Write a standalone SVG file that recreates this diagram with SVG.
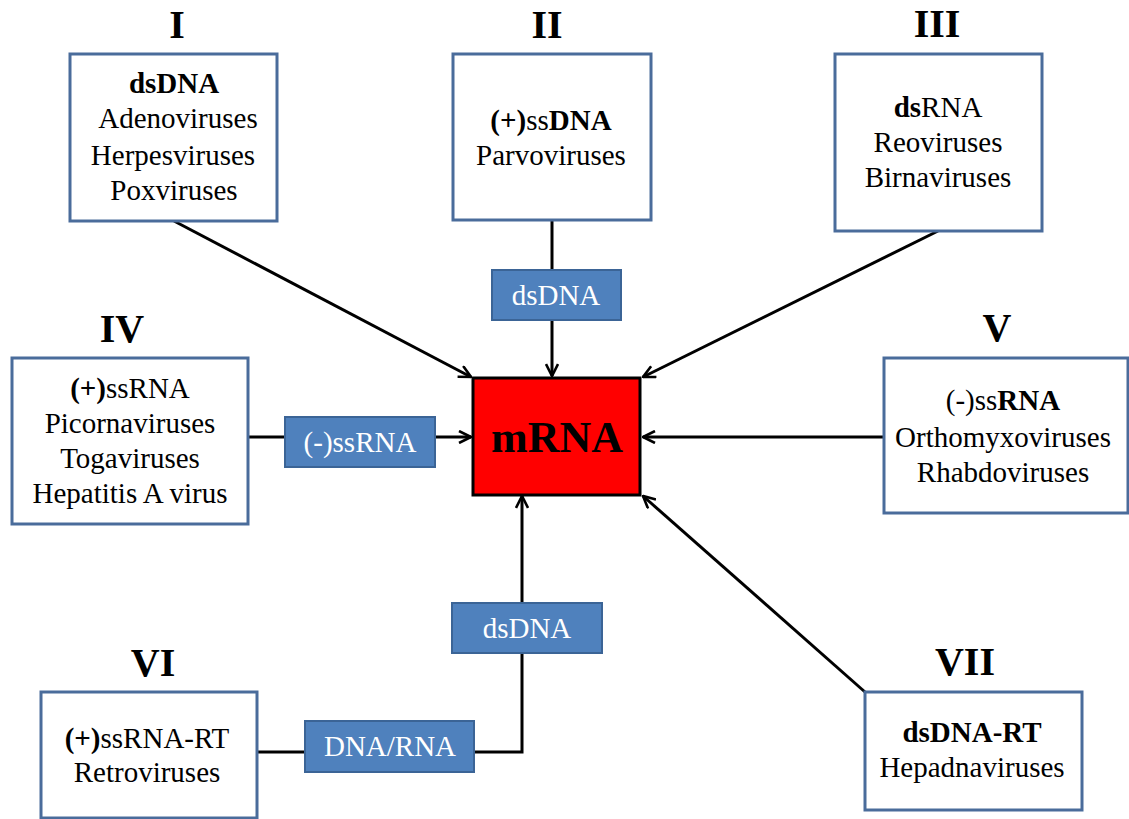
<svg xmlns="http://www.w3.org/2000/svg" width="1129" height="819" viewBox="0 0 1129 819">
<defs>
<marker id="arr" viewBox="0 0 14 14" refX="13" refY="7" markerWidth="14" markerHeight="14" markerUnits="userSpaceOnUse" orient="auto">
<path d="M1,1 L13,7 L1,13" fill="none" stroke="#000" stroke-width="2.6"/>
</marker>
</defs>
<rect width="1129" height="819" fill="#fff"/>
<g id="connectors" fill="none" stroke="#000" stroke-width="3">
<path d="M174,221 L471,377" marker-end="url(#arr)"/>
<path d="M552,220 L552,270"/>
<path d="M552,320 L552,376" marker-end="url(#arr)"/>
<path d="M938,231 L643,377" marker-end="url(#arr)"/>
<path d="M248,437 L285,437"/>
<path d="M435,437 L471,437" marker-end="url(#arr)"/>
<path d="M884,437 L643,437" marker-end="url(#arr)"/>
<path d="M257,752 L305,752"/>
<path d="M474,752 L522,752 L522,653"/>
<path d="M522,602 L522,496" marker-end="url(#arr)"/>
<path d="M865,692 L643,496" marker-end="url(#arr)"/>
</g>
<g id="group1">
<rect x="70" y="54" width="207" height="167" fill="#fff" stroke="#4a6c9b" stroke-width="3"/>
<text x="178" y="128" font-family="Liberation Serif" font-size="29" text-anchor="middle">Adenoviruses</text>
<text x="173" y="165" font-family="Liberation Serif" font-size="29" text-anchor="middle">Herpesviruses</text>
<text x="174" y="200" font-family="Liberation Serif" font-size="29" text-anchor="middle">Poxviruses</text>
<text x="174" y="93" font-family="Liberation Serif" font-size="29" font-weight="bold" text-anchor="middle">dsDNA</text>
<text x="177" y="38" font-family="Liberation Serif" font-size="40" font-weight="bold" text-anchor="middle">I</text>
</g>
<g id="group2">
<rect x="453" y="54" width="198" height="166" fill="#fff" stroke="#4a6c9b" stroke-width="3"/>
<text x="551" y="165" font-family="Liberation Serif" font-size="29" text-anchor="middle">Parvoviruses</text>
<text x="551" y="130" font-family="Liberation Serif" font-size="29" text-anchor="middle"><tspan font-weight="bold">(+)</tspan>ss<tspan font-weight="bold">DNA</tspan></text>
<text x="547" y="38" font-family="Liberation Serif" font-size="40" font-weight="bold" text-anchor="middle">II</text>
</g>
<g id="label-dsdna-top">
<rect x="492" y="270" width="129" height="50" fill="#4f81bd" stroke="#3b6496" stroke-width="2"/>
<text x="556" y="305" fill="#fff" font-family="Liberation Serif" font-size="29" text-anchor="middle">dsDNA</text>
</g>
<g id="group3">
<rect x="835" y="54" width="207" height="177" fill="#fff" stroke="#4a6c9b" stroke-width="3"/>
<text x="938" y="152" font-family="Liberation Serif" font-size="29" text-anchor="middle">Reoviruses</text>
<text x="938" y="187" font-family="Liberation Serif" font-size="29" text-anchor="middle">Birnaviruses</text>
<text x="938" y="117" font-family="Liberation Serif" font-size="29" text-anchor="middle"><tspan font-weight="bold">ds</tspan>RNA</text>
<text x="937" y="37" font-family="Liberation Serif" font-size="40" font-weight="bold" text-anchor="middle">III</text>
</g>
<g id="group4">
<rect x="12" y="358" width="236" height="166" fill="#fff" stroke="#4a6c9b" stroke-width="3"/>
<text x="130" y="433" font-family="Liberation Serif" font-size="29" text-anchor="middle">Picornaviruses</text>
<text x="130" y="468" font-family="Liberation Serif" font-size="29" text-anchor="middle">Togaviruses</text>
<text x="130" y="503" font-family="Liberation Serif" font-size="29" text-anchor="middle">Hepatitis A virus</text>
<text x="130" y="398" font-family="Liberation Serif" font-size="29" text-anchor="middle"><tspan font-weight="bold">(+)</tspan>ssRNA</text>
<text x="122" y="342" font-family="Liberation Serif" font-size="40" font-weight="bold" text-anchor="middle">IV</text>
</g>
<g id="label-ssrna">
<rect x="285" y="417" width="150" height="50" fill="#4f81bd" stroke="#3b6496" stroke-width="2"/>
<text x="360" y="452" fill="#fff" font-family="Liberation Serif" font-size="29" text-anchor="middle">(-)ssRNA</text>
</g>
<g id="group5">
<rect x="884" y="358" width="244" height="155" fill="#fff" stroke="#4a6c9b" stroke-width="3"/>
<text x="1003" y="447" font-family="Liberation Serif" font-size="29" text-anchor="middle">Orthomyxoviruses</text>
<text x="1003" y="482" font-family="Liberation Serif" font-size="29" text-anchor="middle">Rhabdoviruses</text>
<text x="1003" y="410" font-family="Liberation Serif" font-size="29" text-anchor="middle">(-)ss<tspan font-weight="bold">RNA</tspan></text>
<text x="997" y="341" font-family="Liberation Serif" font-size="40" font-weight="bold" text-anchor="middle">V</text>
</g>
<g id="group6">
<rect x="41" y="692" width="216" height="126" fill="#fff" stroke="#4a6c9b" stroke-width="3"/>
<text x="147" y="782" font-family="Liberation Serif" font-size="29" text-anchor="middle">Retroviruses</text>
<text x="147" y="748" font-family="Liberation Serif" font-size="29" text-anchor="middle"><tspan font-weight="bold">(+)</tspan>ssRNA-RT</text>
<text x="153" y="676" font-family="Liberation Serif" font-size="40" font-weight="bold" text-anchor="middle">VI</text>
</g>
<g id="label-dnarna">
<rect x="305" y="721" width="169" height="51" fill="#4f81bd" stroke="#3b6496" stroke-width="2"/>
<text x="390" y="756" fill="#fff" font-family="Liberation Serif" font-size="29" text-anchor="middle">DNA/RNA</text>
</g>
<g id="label-dsdna-bottom">
<rect x="452" y="603" width="150" height="50" fill="#4f81bd" stroke="#3b6496" stroke-width="2"/>
<text x="527" y="638" fill="#fff" font-family="Liberation Serif" font-size="29" text-anchor="middle">dsDNA</text>
</g>
<g id="group7">
<rect x="865" y="692" width="217" height="118" fill="#fff" stroke="#4a6c9b" stroke-width="3"/>
<text x="972" y="777" font-family="Liberation Serif" font-size="29" text-anchor="middle">Hepadnaviruses</text>
<text x="972" y="742" font-family="Liberation Serif" font-size="29" font-weight="bold" text-anchor="middle">dsDNA-RT</text>
<text x="965" y="675" font-family="Liberation Serif" font-size="40" font-weight="bold" text-anchor="middle">VII</text>
</g>
<g id="mrna">
<rect x="473" y="378" width="167" height="117" fill="#ff0000" stroke="#000" stroke-width="3"/>
<text x="557" y="452" font-family="Liberation Serif" font-size="44" font-weight="bold" text-anchor="middle">mRNA</text>
</g>
</svg>
